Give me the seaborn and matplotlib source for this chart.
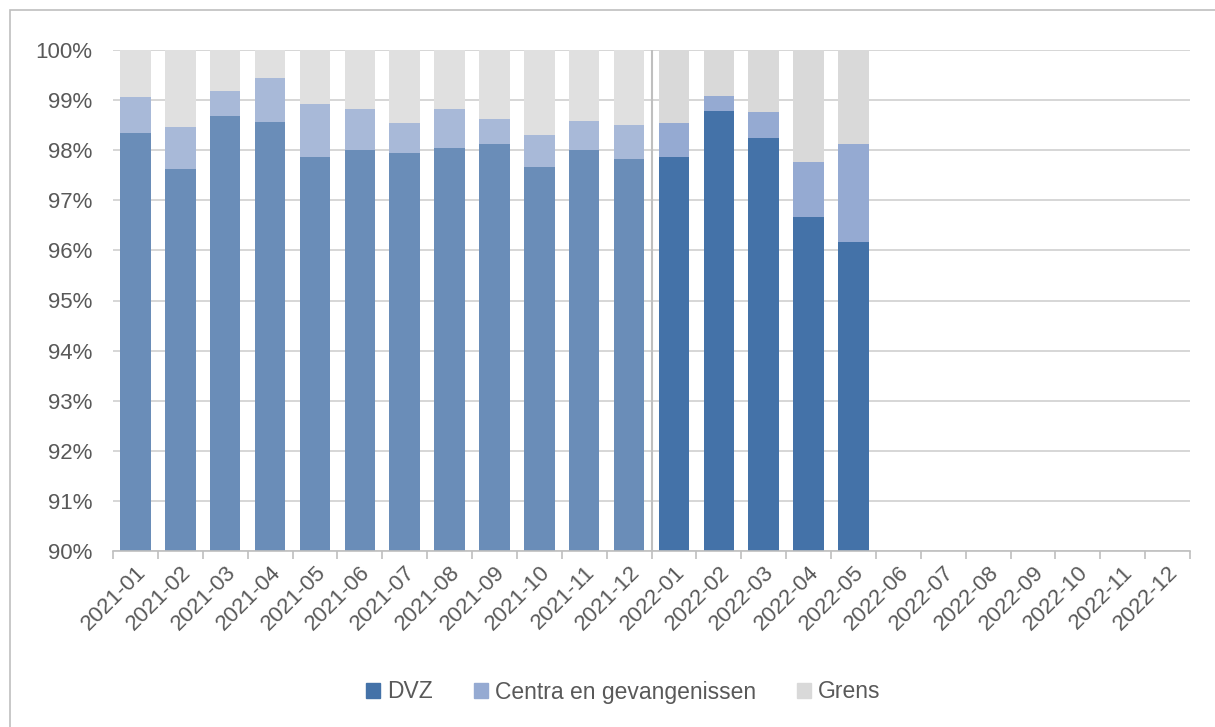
import numpy as np
import pandas as pd
import matplotlib
matplotlib.use("Agg")
import matplotlib.pyplot as plt
import seaborn as sns
from matplotlib.patches import Patch, Rectangle
from matplotlib.ticker import FixedLocator

months = [f"{y}-{m:02d}" for y in (2021, 2022) for m in range(1, 13)]

# cumulative shares (%); NaN = no data yet
dvz = [98.34, 97.62, 98.68, 98.56, 97.86, 98.00, 97.95, 98.04, 98.13, 97.67, 98.00, 97.82,
       97.87, 98.78, 98.25, 96.67, 96.17] + [np.nan] * 7
dvz_centra = [99.06, 98.46, 99.18, 99.44, 98.92, 98.83, 98.54, 98.82, 98.62, 98.30, 98.58, 98.50,
              98.54, 99.08, 98.77, 97.77, 98.12] + [np.nan] * 7
total = [100.0] * 17 + [np.nan] * 7

df = pd.DataFrame({"month": months, "dvz": dvz, "dvz_centra": dvz_centra, "total": total})

# 2021 bars are drawn a bit faded
c21 = {"dvz": "#6a8db8", "centra": "#a8b9d8", "grens": "#e0e0e0"}
c22 = {"dvz": "#4472a8", "centra": "#95aad2", "grens": "#d9d9d9"}

def pal(key):
    return [c21[key] if m.startswith("2021") else c22[key] for m in months]

plt.rcParams["font.family"] = ["Liberation Sans", "DejaVu Sans"]
txt = "#595959"
fs = 16

fig = plt.figure(figsize=(12.15, 7.27), dpi=100)
ax = fig.add_axes([113 / 1215, 1 - 551 / 727, 1077 / 1215, 501 / 727])

for col, key in [("total", "grens"), ("dvz_centra", "centra"), ("dvz", "dvz")]:
    sns.barplot(data=df, x="month", y=col, hue="month", order=months, hue_order=months,
                palette=pal(key), legend=False, width=0.68, saturation=1, ax=ax,
                linewidth=0, zorder=2)

ax.set_ylim(90, 100)
ax.set_xlim(-0.5, len(months) - 0.5)
ax.set_yticks(range(90, 101))
ax.set_yticklabels([f"{v}%" for v in range(90, 101)], fontsize=fs, color=txt)
ax.grid(axis="y", color="#d0d0d0", linewidth=1.2, zorder=0)
ax.set_axisbelow(True)
ax.tick_params(axis="y", length=0, pad=15)
ax.set_xlabel("")
ax.set_ylabel("")

ax.set_xticks(range(len(months)))
ax.set_xticklabels(months, rotation=45, ha="right", rotation_mode="anchor",
                   fontsize=fs, color=txt)
ax.tick_params(axis="x", length=0, pad=8)
ax.xaxis.set_minor_locator(FixedLocator(np.arange(-0.5, len(months), 1)))
ax.tick_params(axis="x", which="minor", length=6, color="#bfbfbf", width=1.2)

for s in ["top", "right", "left"]:
    ax.spines[s].set_visible(False)
ax.spines["bottom"].set_color("#bfbfbf")
ax.spines["bottom"].set_linewidth(1.2)

# separator between the two years
ax.axvline(11.5, color="#bfbfbf", linewidth=1.5, zorder=3)

handles = [Patch(color=c22["dvz"], label="DVZ"),
           Patch(color=c22["centra"], label="Centra en gevangenissen"),
           Patch(color=c22["grens"], label="Grens")]
fig.legend(handles=handles, loc="center", bbox_to_anchor=(0.513, 1 - 692 / 727), ncol=3,
           frameon=False, fontsize=fs + 0.5, labelcolor=txt, handlelength=0.6, handleheight=0.6,
           handletextpad=0.3, columnspacing=1.8)

# outer chart frame
fig.patches.append(Rectangle((10 / 1215, -0.05), 1.1, 1.05 - 10 / 727, transform=fig.transFigure,
                             fill=False, edgecolor="#bfbfbf", linewidth=1.2))

fig.savefig("out.png", dpi=100)
